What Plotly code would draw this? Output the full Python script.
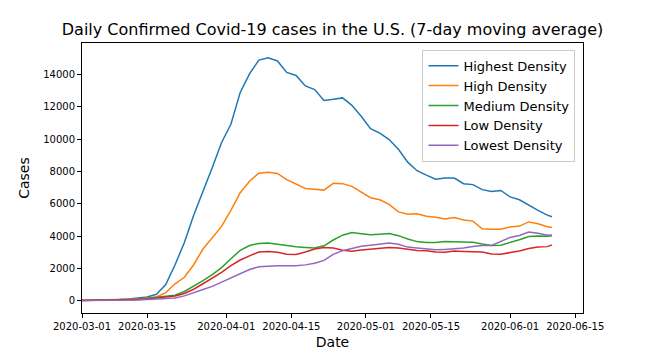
import pandas as pd
import plotly.graph_objects as go

# Dates: every 2 days from 2020-03-01 to 2020-06-09, plus 2020-06-10
dates = list(pd.date_range("2020-03-01", "2020-06-09", freq="2D").strftime("%Y-%m-%d")) + ["2020-06-10"]

highest = [30, 35, 45, 60, 80, 110, 160, 230, 400, 1000, 2230, 3600, 5300, 6750, 8250, 9800,
           10930, 12900, 14050, 14900, 15050, 14850, 14140, 13950, 13300, 13080, 12400, 12470,
           12560, 12100, 11420, 10650, 10380, 9980, 9380, 8580, 8050, 7780, 7530, 7600, 7600,
           7250, 7190, 6880, 6770, 6830, 6430, 6250, 5900, 5600, 5300, 5200]
high = [30, 35, 40, 50, 65, 85, 110, 150, 230, 500, 1050, 1450, 2230, 3200, 3900, 4600,
        5600, 6690, 7400, 7900, 7950, 7880, 7500, 7250, 6950, 6900, 6850, 7270, 7250, 7080,
        6750, 6380, 6250, 5970, 5500, 5350, 5380, 5230, 5170, 5060, 5150, 5000, 4930, 4450,
        4420, 4420, 4570, 4620, 4880, 4770, 4580, 4530]
medium = [20, 25, 30, 35, 45, 60, 90, 150, 200, 260, 340, 570, 880, 1240, 1620, 2050, 2600,
          3120, 3420, 3550, 3580, 3490, 3400, 3340, 3300, 3260, 3400, 3760, 4060, 4220, 4150,
          4090, 4120, 4160, 4030, 3820, 3660, 3600, 3610, 3660, 3650, 3620, 3620, 3510, 3420,
          3440, 3600, 3780, 3980, 4010, 3990, 4030]
low = [20, 22, 25, 30, 35, 45, 70, 110, 160, 210, 290, 450, 710, 1050, 1400, 1750, 2170,
       2520, 2780, 3020, 3050, 3000, 2880, 2870, 3020, 3200, 3290, 3270, 3120, 3060, 3140,
       3180, 3230, 3300, 3270, 3180, 3110, 3090, 3020, 3000, 3080, 3050, 3050, 3010, 2890,
       2880, 2980, 3080, 3230, 3320, 3350, 3460]
lowest = [15, 17, 20, 22, 25, 30, 45, 80, 110, 130, 170, 300, 480, 690, 890, 1150, 1450,
          1700, 1930, 2100, 2150, 2170, 2170, 2170, 2220, 2320, 2500, 2870, 3100, 3230, 3380,
          3440, 3490, 3580, 3500, 3320, 3270, 3200, 3150, 3180, 3230, 3260, 3360, 3420, 3420,
          3680, 3920, 4040, 4250, 4180, 4050, 4070]

series_names = ["Highest Density", "High Density", "Medium Density", "Low Density", "Lowest Density"]
series_values = [highest, high, medium, low, lowest]
colors = ["#1f77b4", "#ff7f0e", "#2ca02c", "#d62728", "#9467bd"]

x_tick_vals = ["2020-03-01", "2020-03-15", "2020-04-01", "2020-04-15",
               "2020-05-01", "2020-05-15", "2020-06-01", "2020-06-15"]
y_tick_vals = [0, 2000, 4000, 6000, 8000, 10000, 12000, 14000]

fig = go.Figure()
for name, vals, c in zip(series_names, series_values, colors):
    fig.add_trace(go.Scatter(x=dates, y=vals, mode="lines", name=name,
                             line=dict(color=c, width=1.5)))

font_family = "DejaVu Sans"
fig.update_layout(
    width=648, height=360,
    margin=dict(l=82, r=65, t=43, b=45),
    paper_bgcolor="white", plot_bgcolor="white",
    font=dict(family=font_family, color="black", size=10),
    title=dict(text="Daily Confirmed Covid-19 cases in the U.S. (7-day moving average)",
               x=0.5, xref="paper", xanchor="center", y=1, yref="container",
               yanchor="top", pad=dict(t=24), font=dict(size=16, family=font_family)),
    showlegend=True,
    legend=dict(x=0.985, y=0.975, xanchor="right", yanchor="top",
                bgcolor="rgba(255,255,255,0.8)", bordercolor="#cccccc", borderwidth=1,
                font=dict(size=13, family=font_family), tracegroupgap=0, itemwidth=30),
)
fig.update_xaxes(
    type="date", range=["2020-03-01", "2020-06-16 16:00"],
    tickvals=x_tick_vals, tickformat="%Y-%m-%d",
    showgrid=False, zeroline=False,
    showline=True, linecolor="black", linewidth=1, mirror=True,
    ticks="outside", ticklen=4, tickcolor="black",
    title=dict(text="Date", font=dict(size=14), standoff=6),
    tickfont=dict(size=10),
)
fig.update_yaxes(
    range=[-760, 15960], tickvals=y_tick_vals, tickformat="d",
    showgrid=False, zeroline=False,
    showline=True, linecolor="black", linewidth=1, mirror=True,
    ticks="outside", ticklen=4, tickcolor="black",
    title=dict(text="Cases", font=dict(size=14), standoff=10),
    tickfont=dict(size=10),
)

fig.write_html("out.html", config={"displayModeBar": False},
               post_script="document.body.style.margin='0';")
